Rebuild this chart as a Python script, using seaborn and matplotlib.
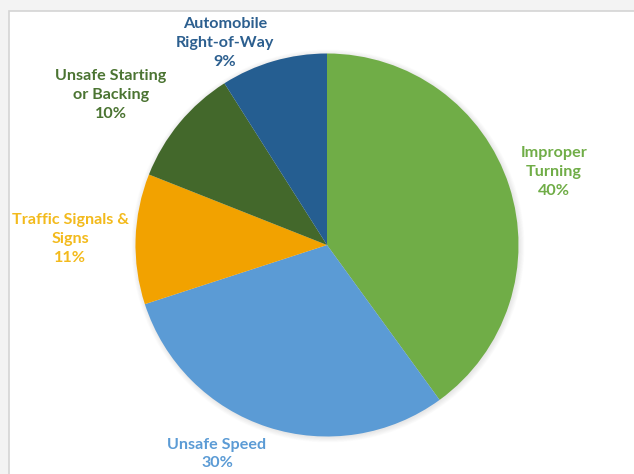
import matplotlib
matplotlib.use("Agg")
import matplotlib.pyplot as plt
import matplotlib.patches as mpatches
import seaborn as sns

sns.set_theme(style="white")
plt.rcParams["font.family"] = ["Lato", "DejaVu Sans"]

# Causes of collisions, share of total (%)
categories = ["Improper\nTurning", "Unsafe Speed", "Traffic Signals &\nSigns",
              "Unsafe Starting\nor Backing", "Automobile\nRight-of-Way"]
shares = [40, 30, 11, 10, 9]
slice_colors = ["#70AD47", "#5B9BD5", "#F2A200", "#43682B", "#255E91"]
text_colors = ["#70AD47", "#5B9BD5", "#F3BA1C", "#4B7432", "#2C5F8F"]

W, H = 634, 474
fig = plt.figure(figsize=(W / 100, H / 100), dpi=100, facecolor="#F3F3F3")
ax = fig.add_axes([0, 0, 1, 1])

# white panel with a thin grey frame
ax.add_patch(mpatches.Rectangle((8.5, -5), W, H - 11 + 5, facecolor="white",
                                edgecolor="#D4D4D4", linewidth=1.2, zorder=0))

cx, cy, r = 327, H - 245, 191.5

# soft shadow around the pie
for i in range(8):
    ax.add_patch(mpatches.Circle((cx + 1, cy - 1), r + 5 - i * 0.7,
                                 facecolor="black", alpha=0.012, linewidth=0, zorder=1))

ax.pie(shares, colors=slice_colors, startangle=90, counterclock=False,
       center=(cx, cy), radius=r, frame=True,
       wedgeprops=dict(linewidth=0, zorder=2))
ax.set_xlim(0, W)
ax.set_ylim(0, H)
ax.set_aspect("equal")
ax.axis("off")

# label block centres (pixel coordinates from the top-left)
label_pos = [(554, 172), (217, 454), (70, 239), (111, 95), (225, 43)]
for name, val, col, (x, y) in zip(categories, shares, text_colors, label_pos):
    ax.text(x, H - y, f"{name}\n{val}%", ha="center", va="center",
            color=col, fontsize=11.6, fontweight="bold", linespacing=1.42, zorder=5)

fig.savefig("out.png", dpi=100, facecolor=fig.get_facecolor())
